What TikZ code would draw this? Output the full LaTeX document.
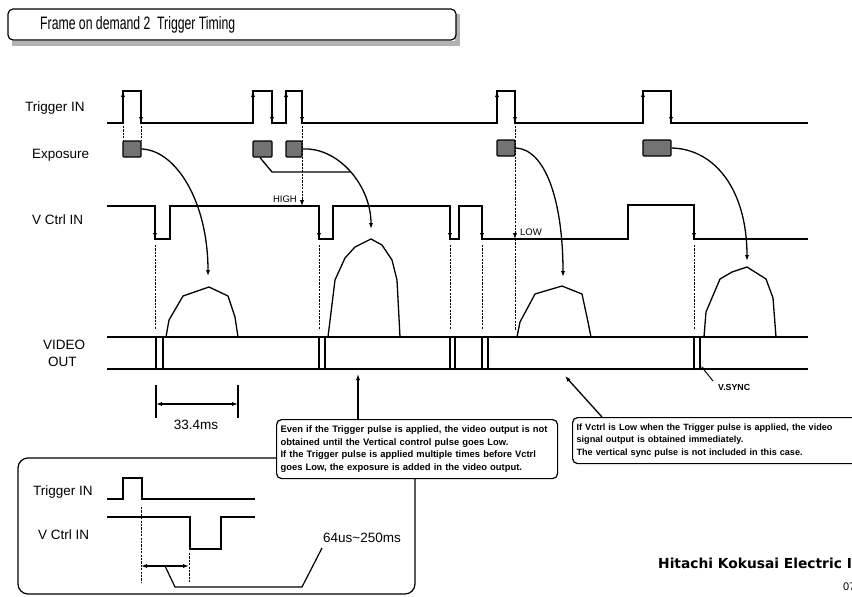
\documentclass[tikz,border=0pt]{standalone}
\usepackage{fontspec}
\setmainfont{Liberation Sans}
\newfontfamily\hitfont{DejaVu Sans}
\usetikzlibrary{arrows.meta}
\begin{document}
\begin{tikzpicture}[x=1pt,y=-1pt,
  sig/.style={line width=1.3pt},
  dsh/.style={line width=0.8pt, dash pattern=on 2.2pt off 1.2pt},
  arr/.style={-{Latex[length=6pt,width=4.2pt]}},
  darr/.style={{Latex[length=6pt,width=4.2pt]}-{Latex[length=6pt,width=4.2pt]}},
  lbl/.style={font=\fontsize{13.5}{15}\selectfont, inner sep=0pt},
  small/.style={font=\fontsize{9.5}{11}\selectfont, inner sep=0pt},
  notebox/.style={draw, line width=1.2pt, rounded corners=5pt, fill=white, align=left,
    inner xsep=4pt, inner ysep=2pt, anchor=north west},
  expbox/.style={draw, line width=1.2pt, fill=black!55, rounded corners=1pt, inner sep=0pt,
    minimum height=16pt}]
\useasboundingbox (0,0) rectangle (852,597);
\clip (0,0) rectangle (852,597);

% title
\fill[gray!60] (12,40.5) rectangle (460,46);
\fill[gray!60] (455,14) rectangle (460,46);
\draw[line width=1.2pt, rounded corners=5pt, fill=white] (8,9) rectangle (456,40);
\node[anchor=west, inner sep=0pt] (title) at (40,25)
  {\scalebox{0.68}[1]{\fontsize{18}{20}\selectfont Frame on demand 2\ \ Trigger Timing}};

% labels
\node[lbl, anchor=west] (ltrig) at (25,108) {Trigger IN};
\node[lbl, anchor=west] (lexp) at (32,155) {Exposure};
\node[lbl, anchor=west] (lvc) at (32,220) {V Ctrl IN};
\node[lbl, anchor=west] (lvid) at (43,345) {VIDEO};
\node[lbl, anchor=west] (lout) at (48,362) {OUT};

% trigger signal
\draw[sig] (107,123) -- (123,123) -- (123,91) -- (141,91) -- (141,123) -- (253,123) -- (253,91)
  -- (272,91) -- (272,123) -- (286,123) -- (286,91) -- (302,91) -- (302,123) -- (497,123)
  -- (497,91) -- (515,91) -- (515,123) -- (643,123) -- (643,91) -- (671,91) -- (671,123) -- (808,123);
\foreach \x in {123,253,286,497,643} \draw[sig,arr] (\x,110) -- (\x,91);
\foreach \x in {141,272,302,515,671} \draw[sig,arr] (\x,104) -- (\x,123);

% exposure boxes
\node[expbox, minimum width=18pt] (e1) at (132,149) {};
\node[expbox, minimum width=19pt] (e2) at (262.5,149) {};
\node[expbox, minimum width=16pt] (e3) at (294,149) {};
\node[expbox, minimum width=18pt] (e4) at (506,148) {};
\node[expbox, minimum width=28pt] (e5) at (657,148) {};

% dashed from trigger
\draw[dsh] (123,126) -- (123,141);
\draw[dsh] (141,126) -- (141,141);
\draw[dsh,arr] (302,126) -- (302,206);
\draw[dsh,arr] (515,126) -- (515,239);
\draw[dsh] (515,239) -- (515,330);
\node[small, anchor=south east] (lhigh) at (297,203) {HIGH};
\node[small, anchor=west] (llow) at (520,232) {LOW};

% V ctrl
\draw[sig] (107,206) -- (155,206) -- (155,239) -- (170,239) -- (170,206) -- (319,206) -- (319,239)
  -- (333,239) -- (333,206) -- (450,206) -- (450,239) -- (459,239) -- (459,206) -- (482,206)
  -- (482,239) -- (628,239) -- (628,205) -- (694,205) -- (694,239) -- (808,239);
\foreach \x in {155,319,450,482,694} {
  \draw[sig,arr] (\x,222) -- (\x,239);
  \draw[dsh] (\x,245) -- (\x,330);
}

% video out
\draw[sig] (107,337) -- (808,337);
\draw[sig] (107,369) -- (808,369);
\foreach \a/\b in {156/163,319/325,450/455,482/488,694/700} {
  \draw[line width=1.1pt] (\a,337) -- (\a,369);
  \draw[line width=1.1pt] (\b,337) -- (\b,369);
}

% bumps
\draw[sig] (166,337) -- (169,320) -- (183,296) -- (209,287) -- (228,296) -- (235,317) -- (238,337);
\draw[sig] (328,337) -- (335,280) -- (345,258) -- (355,247) -- (371,239) -- (382,245) -- (392,260) -- (397,280) -- (400,337);
\draw[sig] (517,337) -- (520,322) -- (535,294) -- (562,286) -- (582,294) -- (588,322) -- (591,337);
\draw[sig] (704,337) -- (706,312) -- (720,279) -- (732,272) -- (747,267) -- (766,279) -- (773,298) -- (776,337);

% curved arrows
\coordinate (b1) at (208,276);
\coordinate (b2) at (371,229);
\coordinate (b3) at (563,277);
\coordinate (b4) at (747,261);
\coordinate (jn) at (350,172);
\draw[sig,arr] (e1.east) .. controls (175,150) and (208,200) .. (b1);
\draw[sig,arr] (e3.east) .. controls (338,147) and (371,185) .. (b2);
\draw[sig] ([xshift=-2.5pt]e2.south) -- (272,172) -- (jn);
\draw[sig,arr] (e4.east) .. controls (545,149) and (563,200) .. (b3);
\draw[sig,arr] (e5.east) .. controls (715,149) and (747,190) .. (b4);

% V.SYNC
\node[small, font=\fontsize{8.8}{10}\selectfont\bfseries, anchor=west] (lvs) at (718,387) {V.SYNC};
\draw[line width=1pt, -{Latex[length=4pt,width=3pt]}] (713,381) -- (701,366);

% 33.4ms
\draw[line width=1.2pt] (156,385) -- (156,418);
\draw[line width=1.2pt] (238,385) -- (238,418);
\draw[line width=1.2pt, darr] (156,404) -- (238,404);
\node[lbl] (l334) at (196,425) {33.4ms};

% lower box
\draw[line width=1.2pt, rounded corners=10pt] (18,458) rectangle (415,594);
\node[lbl, anchor=west] (ltrig2) at (33,492) {Trigger IN};
\node[lbl, anchor=west] (lvc2) at (38,535) {V Ctrl IN};
\draw[line width=1.2pt] (107,499) -- (123,499) -- (123,478) -- (142,478) -- (142,499) -- (255,499);
\draw[line width=1.2pt] (107,517) -- (190,517) -- (190,549) -- (221,549) -- (221,517) -- (255,517);
\draw[dsh] (141,507) -- (141,583);
\draw[dsh] (189,553) -- (189,583);
\draw[line width=1.2pt, darr] (141,566) -- (189,566);
\draw[line width=1.2pt] (165,566) -- (175,587) -- (302,587) -- (322,548);
\node[lbl, anchor=west] (l64) at (323,538) {64us\textasciitilde 250ms};

% note boxes
\node[notebox, minimum width=281pt, minimum height=59pt, text width=273pt,
  font=\fontsize{9.4}{12.5}\selectfont\bfseries] (n1) at (276,419)
  {Even if the Trigger pulse is applied, the video output is not\\
   obtained until the Vertical control pulse goes Low.\\
   If the Trigger pulse is applied multiple times before Vctrl\\
   goes Low, the exposure is added in the video output.};
\node[notebox, minimum width=300pt, minimum height=46pt, text width=292pt,
  font=\fontsize{9.1}{12.5}\selectfont\bfseries] (n2) at (572,417)
  {If Vctrl is Low when the Trigger pulse is applied, the video\\
   signal output is obtained immediately.\\
   The vertical sync pulse is not included in this case.};
\draw[sig,arr] (358,419) -- (358,374);
\draw[sig,arr] (602,417) -- (565,376);

% footer
\node[anchor=west, inner sep=0pt, font=\hitfont\bfseries\fontsize{13.8}{15}\selectfont] (hit) at (658,563) {Hitachi Kokusai Electric Inc.};
\node[anchor=west, inner sep=0pt, font=\fontsize{11}{12}\selectfont] (pg) at (843,587) {07};
\end{tikzpicture}
\end{document}
